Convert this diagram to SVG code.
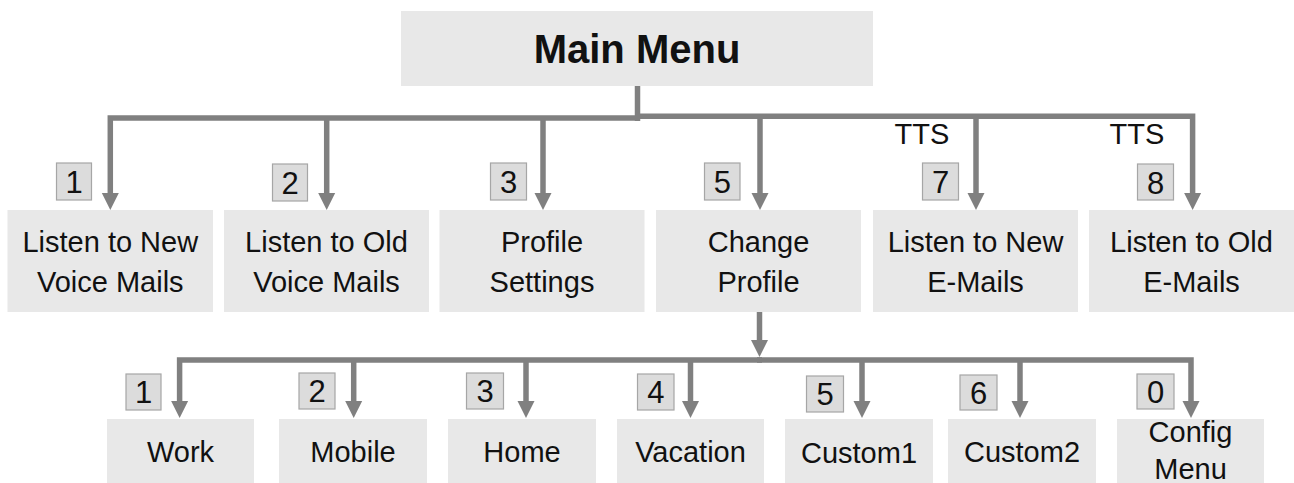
<svg xmlns="http://www.w3.org/2000/svg" width="1294" height="483" viewBox="0 0 1294 483">
<defs>
<style>
.node{fill:#e8e8e8;}
.num{fill:#dcdcdc;stroke:#a6a6a6;stroke-width:1.2;}
.t{font-family:"Liberation Sans",Arial,sans-serif;font-size:29px;fill:#111;text-anchor:middle;}
.d{font-family:"Liberation Sans",Arial,sans-serif;font-size:31px;fill:#111;text-anchor:middle;}
.title{font-family:"Liberation Sans",Arial,sans-serif;font-size:40px;font-weight:bold;fill:#111;text-anchor:middle;}
.c{fill:none;stroke:#808080;stroke-width:5.5;stroke-linejoin:miter;}
.a{marker-end:url(#arr);}
</style>
<marker id="arr" markerUnits="userSpaceOnUse" markerWidth="18" markerHeight="18" refX="0" refY="8.5" orient="auto" overflow="visible">
<path d="M0,0 L17,8.5 L0,17 z" fill="#808080"/>
</marker>
</defs>
<rect width="1294" height="483" fill="#ffffff"/>

<g id="connectors">
<path class="c" d="M637.5,86 V121"/>
<path class="c a" d="M640,118 H110.3 V193"/>
<path class="c a" d="M326.7,118 V193"/>
<path class="c a" d="M543,118 V193"/>
<path class="c a" d="M635,116.3 H1192.6 V193"/>
<path class="c a" d="M760,116.3 V193"/>
<path class="c a" d="M976,116.3 V193"/>
<path class="c a" d="M759.5,312 V340"/>
<path class="c a" d="M762,360 H179.6 V401"/>
<path class="c a" d="M757,360 H1191 V401"/>
<path class="c a" d="M353.7,360 V401"/>
<path class="c a" d="M526,360 V401"/>
<path class="c a" d="M690.5,360 V401"/>
<path class="c a" d="M862,360 V401"/>
<path class="c a" d="M1020,360 V401"/>
</g>

<g id="main-menu">
<rect class="node" x="401" y="11" width="472" height="75"/>
<text class="title" x="637" y="63">Main Menu</text>
</g>

<g id="listen-new-voice">
<rect class="node" x="7.5" y="210" width="205.5" height="102"/>
<text class="t" x="110.3" y="252">Listen to New</text>
<text class="t" x="110.3" y="292">Voice Mails</text>
<rect class="num" x="56.5" y="163" width="35" height="37"/>
<text class="d" x="74" y="193">1</text>
</g>

<g id="listen-old-voice">
<rect class="node" x="224" y="210" width="205" height="102"/>
<text class="t" x="326.5" y="252">Listen to Old</text>
<text class="t" x="326.5" y="292">Voice Mails</text>
<rect class="num" x="272.5" y="164" width="35" height="37"/>
<text class="d" x="290" y="194">2</text>
</g>

<g id="profile-settings">
<rect class="node" x="439.5" y="210" width="205" height="102"/>
<text class="t" x="542" y="252">Profile</text>
<text class="t" x="542" y="292">Settings</text>
<rect class="num" x="490.5" y="163" width="36" height="37"/>
<text class="d" x="508.5" y="193">3</text>
</g>

<g id="change-profile">
<rect class="node" x="656" y="210" width="205" height="102"/>
<text class="t" x="758.5" y="252">Change</text>
<text class="t" x="758.5" y="292">Profile</text>
<rect class="num" x="704.5" y="163" width="35.5" height="37"/>
<text class="d" x="722.3" y="193">5</text>
</g>

<g id="listen-new-email">
<rect class="node" x="873" y="210" width="205" height="102"/>
<text class="t" x="975.5" y="252">Listen to New</text>
<text class="t" x="975.5" y="292">E-Mails</text>
<rect class="num" x="922.5" y="163" width="36" height="37"/>
<text class="d" x="940.5" y="193">7</text>
<text class="t" x="922" y="144">TTS</text>
</g>

<g id="listen-old-email">
<rect class="node" x="1089" y="210" width="205" height="102"/>
<text class="t" x="1191.5" y="252">Listen to Old</text>
<text class="t" x="1191.5" y="292">E-Mails</text>
<rect class="num" x="1137.5" y="164" width="36" height="36"/>
<text class="d" x="1155.5" y="194">8</text>
<text class="t" x="1137" y="144">TTS</text>
</g>

<g id="work">
<rect class="node" x="107" y="419" width="147" height="64"/>
<text class="t" x="180.5" y="462">Work</text>
<rect class="num" x="126" y="374" width="35" height="36"/>
<text class="d" x="143.5" y="403">1</text>
</g>

<g id="mobile">
<rect class="node" x="279" y="419" width="148" height="64"/>
<text class="t" x="353" y="462">Mobile</text>
<rect class="num" x="299" y="373" width="36" height="36"/>
<text class="d" x="317" y="402">2</text>
</g>

<g id="home">
<rect class="node" x="448" y="419" width="148" height="64"/>
<text class="t" x="522" y="462">Home</text>
<rect class="num" x="466.5" y="373" width="37" height="36"/>
<text class="d" x="485" y="402">3</text>
</g>

<g id="vacation">
<rect class="node" x="617" y="419" width="147" height="64"/>
<text class="t" x="690.5" y="462">Vacation</text>
<rect class="num" x="637.5" y="374" width="36.5" height="36"/>
<text class="d" x="655.8" y="403">4</text>
</g>

<g id="custom1">
<rect class="node" x="785" y="419" width="148" height="64"/>
<text class="t" x="859" y="463">Custom1</text>
<rect class="num" x="806.5" y="376" width="37" height="36"/>
<text class="d" x="825" y="405">5</text>
</g>

<g id="custom2">
<rect class="node" x="948" y="419" width="148" height="64"/>
<text class="t" x="1022" y="462">Custom2</text>
<rect class="num" x="960" y="375" width="37" height="35"/>
<text class="d" x="978.5" y="404">6</text>
</g>

<g id="config-menu">
<rect class="node" x="1117" y="419" width="147" height="64"/>
<text class="t" x="1190.5" y="442">Config</text>
<text class="t" x="1190.5" y="479">Menu</text>
<rect class="num" x="1137" y="374" width="37" height="35"/>
<text class="d" x="1155.5" y="403">0</text>
</g>
</svg>
